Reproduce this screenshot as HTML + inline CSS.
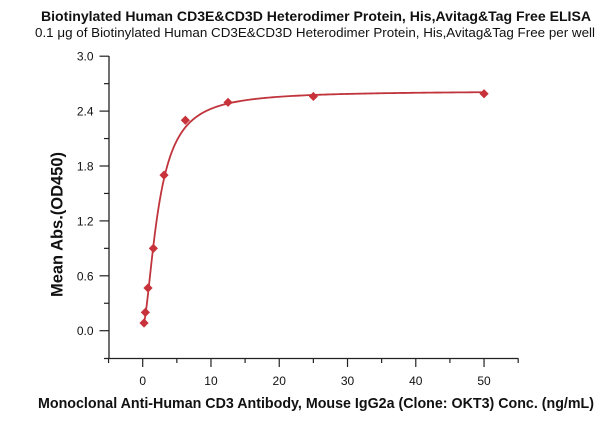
<!DOCTYPE html>
<html>
<head>
<meta charset="utf-8">
<style>
html,body{margin:0;padding:0;background:#fff;}
svg{display:block;}
text{font-family:"Liberation Sans",sans-serif;fill:#111;}
</style>
</head>
<body>
<svg id="c" width="600" height="421" viewBox="0 0 600 421" xmlns="http://www.w3.org/2000/svg">
<rect width="600" height="421" fill="#fff"/>
<text x="316" y="21" text-anchor="middle" font-weight="bold" font-size="14" textLength="550" lengthAdjust="spacingAndGlyphs">Biotinylated Human CD3E&amp;CD3D Heterodimer Protein, His,Avitag&amp;Tag Free ELISA</text>
<text x="315" y="37" text-anchor="middle" font-size="12.8" textLength="560" lengthAdjust="spacingAndGlyphs">0.1 μg of Biotinylated Human CD3E&amp;CD3D Heterodimer Protein, His,Avitag&amp;Tag Free per well</text>
<g id="axes" stroke="#222" stroke-width="1.3" fill="none">
<line x1="109" y1="56" x2="109" y2="358.5"/>
<line x1="104" y1="358.5" x2="518.5" y2="358.5"/>
</g>
<g id="ticks" stroke="#222" stroke-width="1.2"></g>
<g id="labels" font-size="12"></g>
<text transform="translate(62.5,224.5) rotate(-90)" text-anchor="middle" font-weight="bold" font-size="17" textLength="145" lengthAdjust="spacingAndGlyphs">Mean Abs.(OD450)</text>
<text x="316" y="408" text-anchor="middle" font-weight="bold" font-size="15" textLength="556" lengthAdjust="spacingAndGlyphs">Monoclonal Anti-Human CD3 Antibody, Mouse IgG2a (Clone: OKT3) Conc. (ng/mL)</text>
<path id="curve" fill="none" stroke="#c0343c" stroke-width="1.8"/>
<g id="pts" fill="#c8323a"></g>
</svg>
<script>
var NS="http://www.w3.org/2000/svg";
function X(v){return 142.7+v*6.827;}
function Y(v){return 330.7-v*91.5;}
function el(tag,attrs,parent,txt){var e=document.createElementNS(NS,tag);for(var k in attrs)e.setAttribute(k,attrs[k]);if(txt!==undefined)e.textContent=txt;document.getElementById(parent).appendChild(e);return e;}
// y ticks
for(var i=0;i<=11;i++){var v=-0.3+i*0.3;var y=Y(v);if(v<-0.01)continue;var major=(i%2==1);
el("line",{x1:major?99.5:104,y1:y,x2:109,y2:y},"ticks");
if(major){el("text",{x:93.5,y:y+4.5,"text-anchor":"end"},"labels",v.toFixed(1));}}
// x ticks
for(var k=-5;k<=55;k+=5){var x=X(k);var major=(k%10==0);
el("line",{x1:x,y1:358.5,x2:x,y2:major?367:363},"ticks");
if(major){el("text",{x:x,y:385,"text-anchor":"middle"},"labels",String(k));}}
// curve
var A=0.05,D=2.62,C=2.3,H=1.7;
function f(x){var t=Math.pow(x/C,H);return A+(D-A)*t/(1+t);}
var d="";var n=400;var x0=0.195,x1=50;
for(var i=0;i<=n;i++){var lx=Math.log(x0)+(Math.log(x1)-Math.log(x0))*i/n;var x=Math.exp(lx);
d+=(i?"L":"M")+X(x).toFixed(2)+","+Y(f(x)).toFixed(2);}
document.getElementById("curve").setAttribute("d",d);
// points
var pts=[[0.195,0.084],[0.39,0.20],[0.78,0.467],[1.5625,0.90],[3.125,1.70],[6.25,2.30],[12.5,2.496],[25,2.56],[50,2.59]];
pts.forEach(function(p){var cx=X(p[0]),cy=Y(p[1]),s=4.6;
el("polygon",{points:(cx)+","+(cy-s)+" "+(cx+s)+","+cy+" "+cx+","+(cy+s)+" "+(cx-s)+","+cy},"pts");});
</script>
</body>
</html>
